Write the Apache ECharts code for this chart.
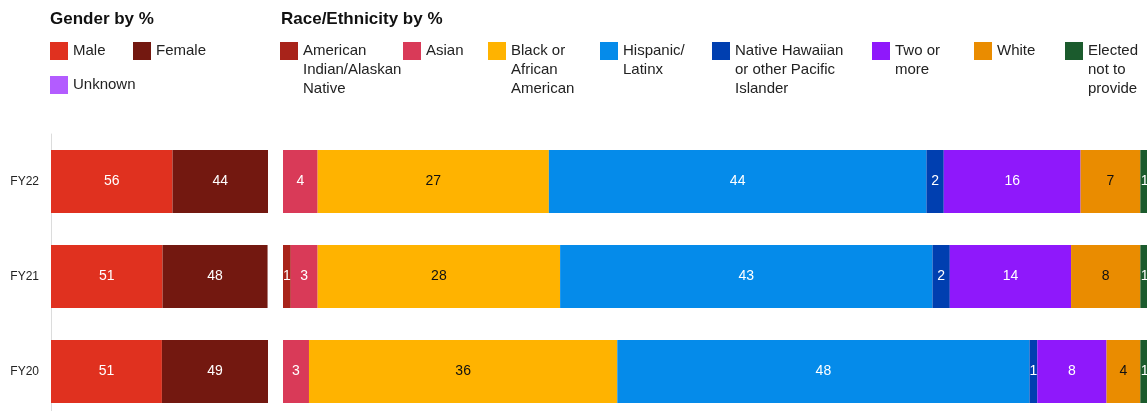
<!DOCTYPE html>
<html>
<head>
<meta charset="utf-8">
<script src="https://cdn.jsdelivr.net/npm/echarts@6/dist/echarts.min.js"></script>
<style>
  html, body { margin: 0; padding: 0; background: #fff; }
  #chart { width: 1147px; height: 411px; }
</style>
</head>
<body>
<div id="chart"></div>
<script>
// ---- Data ----
const years = ['FY22', 'FY21', 'FY20'];

const genderNames = ['Male', 'Female', 'Unknown'];
const male    = [56, 51.4, 51.1];
const female  = [44, 48.4, 48.9];
const unknown = [0, 0, 0];

const raceNames = ['American Indian/Alaskan Native', 'Asian', 'Black or African American',
  'Hispanic/ Latinx', 'Native Hawaiian or other Pacific Islander', 'Two or more', 'White',
  'Elected not to provide'];
const amIndian  = [0, 0.9, 0];
const asian     = [4.0, 3.1, 3.0];
const black     = [26.7, 28.0, 35.6];
const hispanic  = [43.6, 43.0, 47.6];
const hawaiian  = [2.0, 2.0, 0.9];
const twoOrMore = [15.8, 14.0, 8.0];
const white     = [6.9, 8.0, 3.9];
const elected   = [1.0, 1.0, 1.0];

// legend display text (line breaks as in the reference)
const legendText = {
  'Male': 'Male', 'Female': 'Female', 'Unknown': 'Unknown',
  'American Indian/Alaskan Native': 'American\nIndian/Alaskan\nNative',
  'Asian': 'Asian',
  'Black or African American': 'Black or\nAfrican\nAmerican',
  'Hispanic/ Latinx': 'Hispanic/\nLatinx',
  'Native Hawaiian or other Pacific Islander': 'Native Hawaiian\nor other Pacific\nIslander',
  'Two or more': 'Two or\nmore',
  'White': 'White',
  'Elected not to provide': 'Elected\nnot to\nprovide'
};

// ---- Style ----
const FONT = '"Liberation Sans", Arial, Helvetica, sans-serif';
const colors = {
  'Male': '#e0311f', 'Female': '#731810', 'Unknown': '#b35cff',
  'American Indian/Alaskan Native': '#a8231a', 'Asian': '#d93a58',
  'Black or African American': '#ffb300', 'Hispanic/ Latinx': '#058bea',
  'Native Hawaiian or other Pacific Islander': '#003fb0', 'Two or more': '#8f18fb',
  'White': '#ea8c00', 'Elected not to provide': '#1b5b2d'
};
const darkLabel = { 'Black or African American': true, 'White': true };

function makeSeries(name, data, axisIdx) {
  return {
    name: name, type: 'bar', stack: 's' + axisIdx,
    xAxisIndex: axisIdx, yAxisIndex: axisIdx,
    barWidth: 63,
    data: data,
    itemStyle: { color: colors[name] },
    label: {
      show: true, position: 'inside',
      color: darkLabel[name] ? '#111' : '#fff',
      fontFamily: FONT, fontSize: 14,
      formatter: p => (p.value >= 0.5 ? Math.round(p.value) : '')
    },
    emphasis: { disabled: true }
  };
}

const series = [
  makeSeries('Male', male, 0),
  makeSeries('Female', female, 0),
  makeSeries('Unknown', unknown, 0),
  makeSeries(raceNames[0], amIndian, 1),
  makeSeries(raceNames[1], asian, 1),
  makeSeries(raceNames[2], black, 1),
  makeSeries(raceNames[3], hispanic, 1),
  makeSeries(raceNames[4], hawaiian, 1),
  makeSeries(raceNames[5], twoOrMore, 1),
  makeSeries(raceNames[6], white, 1),
  makeSeries(raceNames[7], elected, 1)
];

// legend positions (layout only): name, left, icon top
const legendPos = [
  ['Male', 50, 42], ['Female', 133, 42], ['Unknown', 50, 76],
  [raceNames[0], 280, 42], [raceNames[1], 403, 42], [raceNames[2], 488, 42],
  [raceNames[3], 600, 42], [raceNames[4], 712, 42], [raceNames[5], 872, 42],
  [raceNames[6], 974, 42], [raceNames[7], 1065, 42]
];
const LH = 19;
// Multi-line legend text is centred on its icon; leading blank lines make the
// first text line sit level with the icon instead.
const legends = legendPos.map(([name, x, y]) => {
  const lines = legendText[name].split('\n').length;
  const pad = '\n'.repeat(lines - 1);
  return {
    data: [name], left: x, top: y - 0.5 - (lines - 1) * LH, padding: 0,
    itemWidth: 18, itemHeight: 18, itemGap: 6,
    icon: 'rect', selectedMode: false,
    formatter: n => pad + legendText[n],
    textStyle: {
      fontFamily: FONT, fontSize: 15, color: '#222', lineHeight: LH
    }
  };
});

const option = {
  animation: false,
  textStyle: { fontFamily: FONT },
  title: [
    { text: 'Gender by %', left: 45, top: 6,
      textStyle: { fontFamily: FONT, fontSize: 17, fontWeight: 'bold', color: '#111' } },
    { text: 'Race/Ethnicity by %', left: 276, top: 6,
      textStyle: { fontFamily: FONT, fontSize: 17, fontWeight: 'bold', color: '#111' } }
  ],
  legend: legends,
  grid: [
    { left: 51, top: 134, width: 217, height: 285, outerBoundsMode: 'none', containLabel: false },
    { left: 283, top: 134, width: 866, height: 285, outerBoundsMode: 'none', containLabel: false }
  ],
  xAxis: [
    { type: 'value', gridIndex: 0, min: 0, max: 100, show: false },
    { type: 'value', gridIndex: 1, min: 0, max: 100, show: false }
  ],
  yAxis: [
    { type: 'category', gridIndex: 0, data: years, inverse: true,
      axisLine: { show: true, lineStyle: { color: '#dcdcdc', width: 1 } },
      axisTick: { show: false },
      axisLabel: { color: '#222', fontSize: 12, fontFamily: FONT, margin: 12 } },
    { type: 'category', gridIndex: 1, data: years, inverse: true,
      axisLine: { show: false }, axisTick: { show: false }, axisLabel: { show: false } }
  ],
  series: series
};

const chart = echarts.init(document.getElementById('chart'), null, { renderer: 'canvas' });
chart.setOption(option);
</script>
</body>
</html>
